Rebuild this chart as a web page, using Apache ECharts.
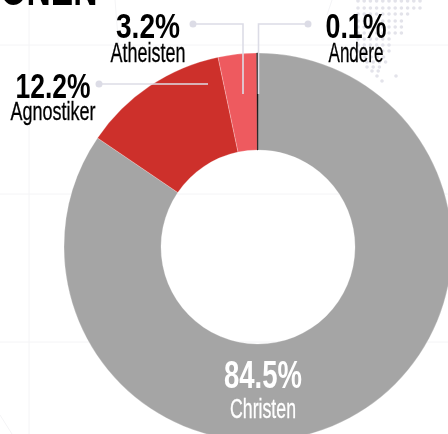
<!DOCTYPE html>
<html><head><meta charset="utf-8">
<style>html,body{margin:0;padding:0;background:#fff;overflow:hidden}#c{width:448px;height:434px}</style>
<script src="https://cdn.jsdelivr.net/npm/echarts@6/dist/echarts.min.js"></script>
</head><body><div id="c"></div>
<script>
const categories = ['Christen','Agnostiker','Atheisten','Andere'];
const shares = [84.5,12.2,3.2,0.1];
const sliceColors = ['#a5a5a5','#cd302b','#ee5a5f','#111111'];
const titleFragment = 'ONEN';

// label layout: [centre x, value baseline, value width, name baseline, name width, name size, colour]
const labelLayout = [
  [263,388,78,418,66,27,'#ffffff'],
  [53,98,75,120,85,25,'#000000'],
  [148,38,64,62,75,27,'#000000'],
  [356,38,61,62,55,27,'#000000']
];
const leaders = [
  [[99,84],[208,84]],
  [[193,24],[243,24],[243,94]],
  [[308,24],[258.5,24],[258.5,94]]
];
const mapRows = [[1,358,421],[8,358,421],[14,358,412],[21,358,406],[27,358,405],[33,358,402],[39,358,395],[45,358,392],[51,358,392],[57,365,388],[62,367,390],[67,367,382],[71,372,382],[76,377,382],[81,382,387]];
const mapExtra = [[396,76]];
const faintLines = [
  [[0,45],[448,45]],[[0,194],[448,194]],[[0,342],[448,342]],[[29,0],[29,434]],
  [[115,0],[119,50]],[[332,0],[327,15]],[[0,415],[12,434]]
];

const FONT = '"Liberation Sans Narrow","Liberation Sans",sans-serif';
const ctx = document.createElement('canvas').getContext('2d');
function fitted(text,cx,base,width,size,color,weight,strokeW){
  ctx.font = weight+' '+size+'px '+FONT;
  const s = width/ctx.measureText(text).width;
  const style = {text:text,fill:color,font:weight+' '+size+'px '+FONT,textAlign:'center',textVerticalAlign:'bottom'};
  if(strokeW){style.stroke=color;style.lineWidth=strokeW;}
  return {type:'text',x:cx,y:base+0.212*size,scaleX:s,z:20,silent:true,style:style};
}
const g = [];
faintLines.forEach(l=>g.push({type:'polyline',z:0,silent:true,shape:{points:l},style:{stroke:'#f4f4f6',lineWidth:1,fill:null}}));
mapRows.forEach(r=>{for(let x=r[1];x<=r[2];x+=6.2)g.push({type:'circle',z:0,silent:true,shape:{cx:x,cy:r[0],r:1.8},style:{fill:'#e3e3ea'}});});
mapExtra.forEach(p=>g.push({type:'circle',z:0,silent:true,shape:{cx:p[0],cy:p[1],r:1.8},style:{fill:'#e3e3ea'}}));
leaders.forEach(l=>{
  g.push({type:'polyline',z:15,silent:true,shape:{points:l},style:{stroke:'#dcdce6',lineWidth:1.6,fill:null}});
  g.push({type:'circle',z:15,silent:true,shape:{cx:l[0][0],cy:l[0][1],r:3.5},style:{fill:'#dcdce6'}});
});
categories.forEach((c,i)=>{
  const L = labelLayout[i];
  g.push(fitted(shares[i].toFixed(1)+'%',L[0],L[1],L[2],i===0?38:35,L[6],'bold',0));
  g.push(fitted(c,L[0],L[3],L[4],L[5],L[6],'normal',0.3));
});
g.push(fitted(titleFragment,49,6,97,44,'#000000','bold',0));

const chart = echarts.init(document.getElementById('c'),null,{width:448,height:434});
chart.setOption({
  animation:false,backgroundColor:'#fff',
  series:[{type:'pie',z:2,center:[258,247],radius:[97,194],startAngle:90,clockwise:true,silent:true,
    label:{show:false},labelLine:{show:false},
    data:categories.map((c,i)=>({name:c,value:shares[i],itemStyle:{color:sliceColors[i],
      borderColor:i===3?'#111111':'rgba(255,255,255,0.5)',borderWidth:0.5}}))}],
  graphic:{elements:g}
});
</script></body></html>
